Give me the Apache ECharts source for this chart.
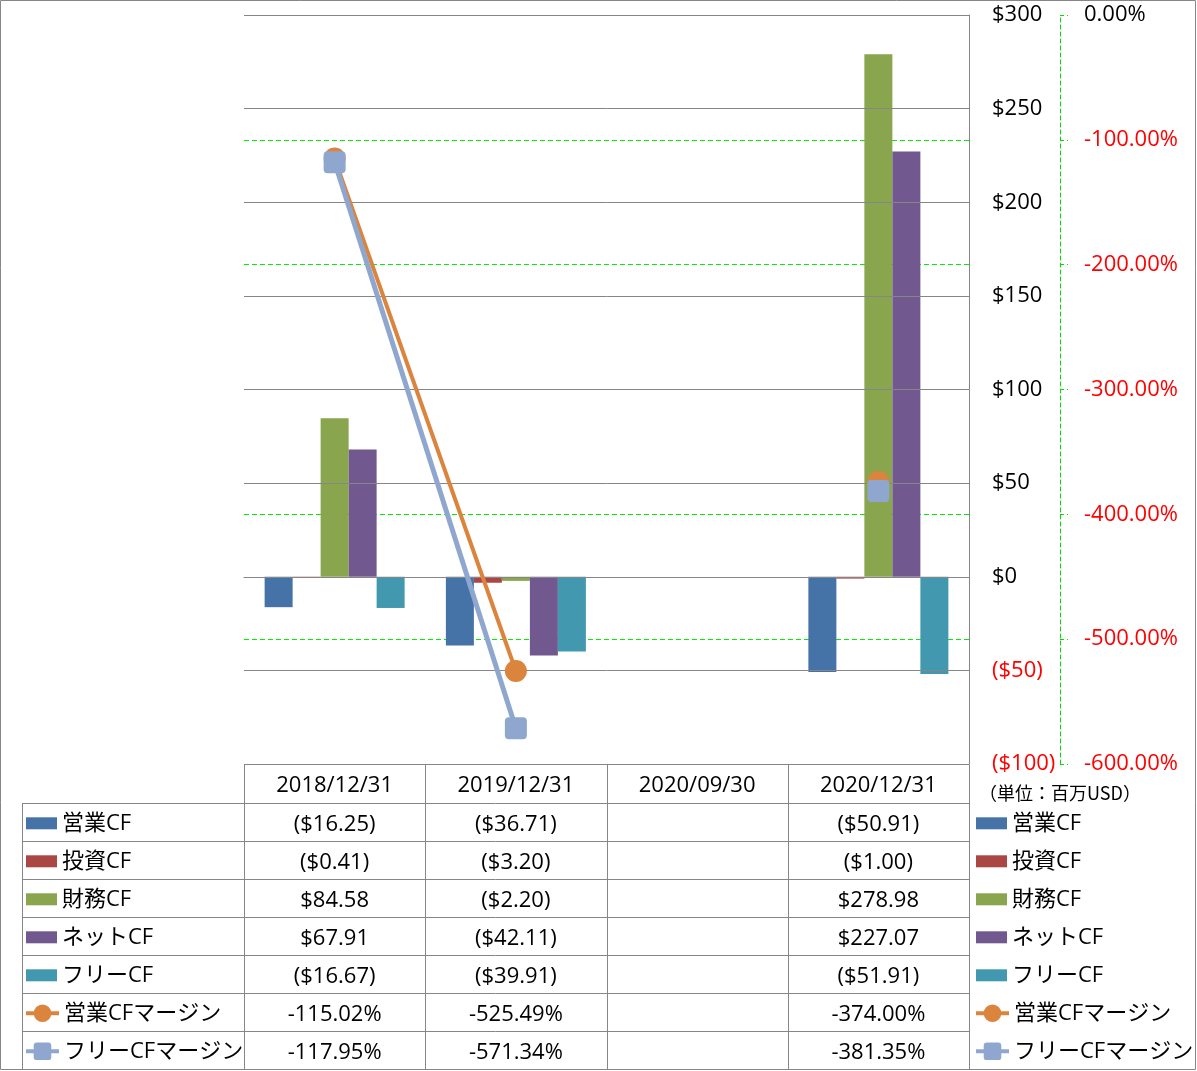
<!DOCTYPE html>
<html>
<head>
<meta charset="utf-8">
<script src="https://cdn.jsdelivr.net/npm/echarts@6/dist/echarts.min.js"></script>
<style>
html,body{margin:0;padding:0;background:#fff;}
#c{width:1197px;height:1071px;}
</style>
</head>
<body>
<div id="c"></div>
<script>
// ---- data ----
var categories = ['2018/12/31', '2019/12/31', '2020/09/30', '2020/12/31'];
var opCF   = [-16.25, -36.71, null, -50.91];
var invCF  = [-0.41, -3.20, null, -1.00];
var finCF  = [84.58, -2.20, null, 278.98];
var netCF  = [67.91, -42.11, null, 227.07];
var freeCF = [-16.67, -39.91, null, -51.91];
var opMargin   = [-115.02, -525.49, null, -374.00];
var freeMargin = [-117.95, -571.34, null, -381.35];
var seriesNames = ['営業CF', '投資CF', '財務CF', 'ネットCF', 'フリーCF', '営業CFマージン', 'フリーCFマージン'];
var leftTicks = {min: -100, max: 300, interval: 50};
var rightTicks = {min: -600, max: 0, interval: 100};
var unitLabel = '（単位：百万USD）';

// ---- style ----
var colors = ['#4572A7', '#AA4643', '#89A54E', '#71588F', '#4198AF', '#DB843D', '#8FA7CE'];
var FONT = "'Open Sans','Noto Sans CJK JP',sans-serif";
var gridL = 244, gridR = 969, gridT = 15, gridB = 764;
var W = 1197, H = 1071;
var rowTop = 803.3, rowH = 38, tableL = 22;
var GRAY = '#868686';

function money(v) {
  if (v == null) return '';
  return v < 0 ? '($' + (-v).toFixed(2) + ')' : '$' + v.toFixed(2);
}
function pct(v) {
  if (v == null) return '';
  return v.toFixed(2) + '%';
}

var chart = echarts.init(document.getElementById('c'), null, {renderer: 'canvas'});

var barData = [opCF, invCF, finCF, netCF, freeCF];
var series = [];
barData.forEach(function (d, i) {
  series.push({
    name: seriesNames[i], type: 'bar', data: d, yAxisIndex: 0,
    barWidth: 28, barGap: '0%',
    itemStyle: {color: colors[i]}, z: 2
  });
});
var roundSq = 'path://M4,0 H18 A4,4 0 0 1 22,4 V18 A4,4 0 0 1 18,22 H4 A4,4 0 0 1 0,18 V4 A4,4 0 0 1 4,0 Z';
series.push({
  name: seriesNames[5], type: 'line', data: opMargin, yAxisIndex: 1,
  connectNulls: false, symbol: 'circle', symbolSize: 22, showSymbol: true,
  lineStyle: {color: colors[5], width: 4}, itemStyle: {color: colors[5]}, z: 5
});
series.push({
  name: seriesNames[6], type: 'line', data: freeMargin, yAxisIndex: 1,
  connectNulls: false, symbol: roundSq,
  symbolSize: 22, showSymbol: true,
  lineStyle: {color: colors[6], width: 5}, itemStyle: {color: colors[6]}, z: 6
});

// table text
var graphics = [];
var colW = (gridR - gridL) / categories.length;
var rows = [opCF, invCF, finCF, netCF, freeCF, opMargin, freeMargin];
rows.forEach(function (r, ri) {
  var fmt = ri < 5 ? money : pct;
  r.forEach(function (v, ci) {
    graphics.push({
      type: 'text', z: 100,
      style: {
        text: fmt(v), x: gridL + (ci + 0.5) * colW, y: rowTop + (ri + 0.5) * rowH + 2,
        align: 'center', verticalAlign: 'middle', fill: '#000',
        font: '22px ' + FONT
      }
    });
  });
});
// table lines
function hline(x1, x2, y) {
  graphics.push({type: 'line', z: 90, shape: {x1: x1, y1: y, x2: x2, y2: y}, style: {stroke: GRAY, lineWidth: 1}});
}
function vline(x, y1, y2) {
  graphics.push({type: 'line', z: 90, shape: {x1: x, y1: y1, x2: x, y2: y2}, style: {stroke: GRAY, lineWidth: 1}});
}
hline(gridL, gridR, gridB + 0.5);
for (var k = 0; k <= rows.length; k++) {
  hline(tableL, gridR, Math.round(rowTop + k * rowH) + 0.5);
}
vline(tableL + 0.5, Math.round(rowTop) + 0.5, Math.round(rowTop + rows.length * rowH) + 0.5);
for (var c = 0; c <= categories.length; c++) {
  vline(Math.round(gridL + c * colW) + 0.5, gridB + 0.5, Math.round(rowTop + rows.length * rowH) + 0.5);
}
// outer border
graphics.push({type: 'rect', z: 90, shape: {x: 0.5, y: 0.5, width: W - 2, height: H - 2}, style: {stroke: GRAY, fill: null, lineWidth: 1}});
// unit label
graphics.push({type: 'text', z: 100, style: {text: unitLabel, x: 979, y: 793, align: 'left', verticalAlign: 'middle', fill: '#000', font: "18px 'Noto Sans CJK JP',sans-serif"}});

var barLegend = seriesNames.slice(0, 5).map(function (n) { return {name: n, icon: 'rect'}; });
var lineLegend = [
  {name: seriesNames[5], lineStyle: {width: 4}},
  {name: seriesNames[6], lineStyle: {width: 4}}
];
var legendText = {fontSize: 22, fontFamily: FONT, color: '#000', lineHeight: 24};
function mkLegend(left, top, data, iw, ih) {
  return {
    orient: 'vertical', left: left, top: top, itemGap: rowH - 24, itemWidth: iw, itemHeight: ih,
    selectedMode: false, padding: 0, textStyle: legendText, data: data
  };
}
var barTop = rowTop + 0.5 * rowH - 12 + 1;
var lineTop = rowTop + 5.5 * rowH - 12 + 1;

var option = {
  animation: false,
  backgroundColor: '#fff',
  grid: {left: gridL, right: W - gridR, top: gridT, bottom: H - gridB, containLabel: false},
  legend: [
    mkLegend(26, barTop, barLegend, 31, 12),
    mkLegend(24, lineTop, lineLegend, 33, 22),
    mkLegend(976, barTop, barLegend, 31, 12),
    mkLegend(974, lineTop, lineLegend, 33, 22)
  ],
  xAxis: {
    type: 'category', data: categories, position: 'bottom',
    axisLine: {show: true, lineStyle: {color: GRAY}},
    axisTick: {show: false},
    axisLabel: {fontSize: 22, fontFamily: FONT, color: '#000', margin: 10, lineHeight: 24, interval: 0},
    splitLine: {show: false}
  },
  yAxis: [
    {
      type: 'value', position: 'right', min: leftTicks.min, max: leftTicks.max, interval: leftTicks.interval,
      axisLine: {show: true, lineStyle: {color: GRAY}},
      axisTick: {show: false},
      axisLabel: {
        margin: 23, align: 'left', fontSize: 22, fontFamily: FONT, padding: [6, 0, 0, 0],
        formatter: function (v) { return v < 0 ? '($' + (-v) + ')' : '$' + v; },
        color: function (v) { return v < 0 ? '#FF0000' : '#000'; }
      },
      splitLine: {show: true, lineStyle: {color: GRAY, width: 1}}, z: 3
    },
    {
      type: 'value', position: 'right', offset: 91, min: rightTicks.min, max: rightTicks.max, interval: rightTicks.interval,
      axisLine: {show: true, lineStyle: {color: '#00DD00', type: [4, 3], width: 1}},
      axisTick: {show: true, inside: false, length: 8, lineStyle: {color: '#00DD00', type: [4, 3]}},
      axisLabel: {
        margin: 24, align: 'left', fontSize: 22, fontFamily: FONT, padding: [6, 0, 0, 0],
        formatter: function (v) { return v.toFixed(2) + '%'; },
        color: function (v) { return v < 0 ? '#FF0000' : '#000'; }
      },
      splitLine: {show: true, lineStyle: {color: '#00EE00', width: 1, type: [5, 3]}}
    }
  ],
  series: series,
  graphic: graphics
};
chart.setOption(option);
</script>
</body>
</html>
